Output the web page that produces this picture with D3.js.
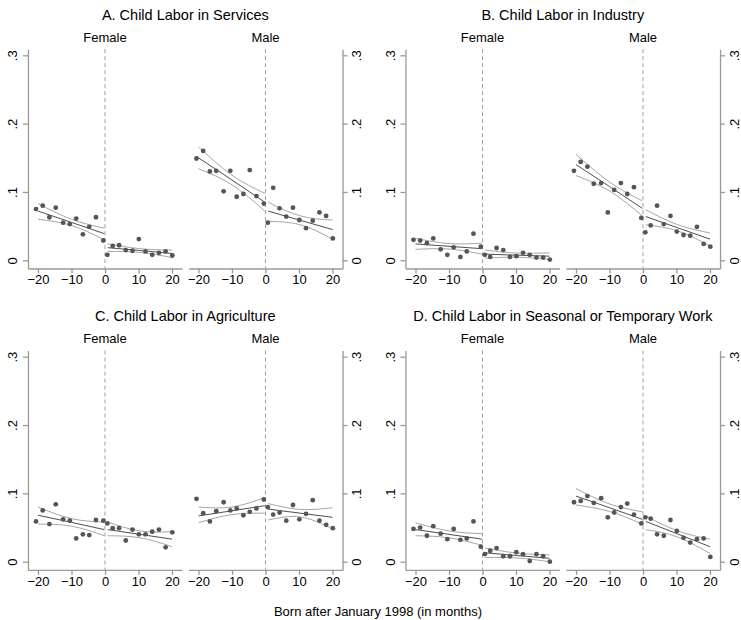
<!DOCTYPE html>
<html>
<head>
<meta charset="utf-8">
<script src="https://cdn.jsdelivr.net/npm/d3@7"></script>
<style>
  body { margin: 0; background: #fff; }
  svg { font-family: 'Liberation Sans', Arial, sans-serif; }
</style>
</head>
<body>
<svg id="chart"></svg>
<script>
// month bins (before / after January 1998)
const monthsBefore = [-20.6, -18.6, -16.6, -14.7, -12.5, -10.5, -8.6, -6.6, -4.7, -2.7, -0.5];
const monthsAfter = [0.7, 2.3, 4.2, 6.2, 8.2, 10.1, 12.1, 14.1, 16.1, 18.1, 20.1];
// months where the fitted lines and their bands are read
const fitMonths = [-20, -10, -0.2, 0.8, 10.4, 20];

const panelTitles = [
  'A. Child Labor in Services',
  'B. Child Labor in Industry',
  'C. Child Labor in Agriculture',
  'D. Child Labor in Seasonal or Temporary Work'
];
const sexes = ['Female', 'Male'];
const xTicks = [-20, -10, 0, 10, 20];
const yTicks = [0, 0.1, 0.2, 0.3];

// binned means (11 before, 11 after)
const servicesFemale = [0.075, 0.080, 0.063, 0.077, 0.055, 0.053, 0.061, 0.038, 0.049, 0.063, 0.029,
                        0.008, 0.021, 0.022, 0.015, 0.014, 0.031, 0.013, 0.008, 0.011, 0.013, 0.007];
const servicesMale = [0.149, 0.160, 0.130, 0.131, 0.101, 0.131, 0.093, 0.097, 0.132, 0.094, 0.083,
                      0.055, 0.106, 0.076, 0.064, 0.077, 0.059, 0.047, 0.058, 0.070, 0.065, 0.032];
const industryFemale = [0.030, 0.029, 0.025, 0.032, 0.016, 0.008, 0.019, 0.005, 0.013, 0.039, 0.020,
                        0.008, 0.005, 0.018, 0.015, 0.005, 0.006, 0.011, 0.008, 0.004, 0.004, 0.001];
const industryMale = [0.131, 0.144, 0.137, 0.112, 0.113, 0.070, 0.103, 0.113, 0.097, 0.107, 0.062,
                      0.041, 0.051, 0.080, 0.053, 0.065, 0.042, 0.037, 0.036, 0.049, 0.024, 0.020];
const agricultureFemale = [0.059, 0.075, 0.055, 0.084, 0.062, 0.060, 0.034, 0.040, 0.039, 0.061, 0.060,
                           0.056, 0.049, 0.049, 0.031, 0.047, 0.040, 0.040, 0.044, 0.047, 0.021, 0.043];
const agricultureMale = [0.092, 0.071, 0.059, 0.074, 0.087, 0.075, 0.078, 0.068, 0.073, 0.078, 0.091,
                         0.080, 0.069, 0.072, 0.060, 0.083, 0.062, 0.070, 0.090, 0.060, 0.054, 0.049];
const seasonalFemale = [0.048, 0.050, 0.038, 0.052, 0.041, 0.033, 0.048, 0.032, 0.034, 0.059, 0.022,
                        0.011, 0.016, 0.020, 0.008, 0.008, 0.014, 0.011, 0.001, 0.011, 0.008, 0.000];
const seasonalMale = [0.087, 0.089, 0.096, 0.086, 0.093, 0.065, 0.072, 0.080, 0.085, 0.069, 0.056,
                      0.065, 0.063, 0.040, 0.038, 0.061, 0.045, 0.035, 0.028, 0.033, 0.034, 0.007];

// linear fits and 95% bands at fitMonths
const servicesFemaleFit = [0.072, 0.0555, 0.039, 0.0185, 0.0143, 0.010];
const servicesFemaleHi = [0.083, 0.060, 0.047, 0.024, 0.017, 0.015];
const servicesFemaleLo = [0.060, 0.051, 0.030, 0.013, 0.0115, 0.004];
const servicesMaleFit = [0.150, 0.1175, 0.085, 0.072, 0.0585, 0.045];
const servicesMaleHi = [0.166, 0.1245, 0.098, 0.085, 0.065, 0.059];
const servicesMaleLo = [0.134, 0.1105, 0.072, 0.057, 0.052, 0.031];
const industryFemaleFit = [0.024, 0.0205, 0.017, 0.009, 0.0075, 0.006];
const industryFemaleHi = [0.032, 0.0245, 0.025, 0.015, 0.0105, 0.011];
const industryFemaleLo = [0.016, 0.0165, 0.009, 0.003, 0.0045, 0.001];
const industryMaleFit = [0.140, 0.108, 0.076, 0.064, 0.0475, 0.031];
const industryMaleHi = [0.155, 0.1145, 0.087, 0.074, 0.052, 0.040];
const industryMaleLo = [0.124, 0.1015, 0.065, 0.052, 0.043, 0.021];
const agricultureFemaleFit = [0.068, 0.0575, 0.047, 0.047, 0.040, 0.033];
const agricultureFemaleHi = [0.080, 0.063, 0.058, 0.058, 0.045, 0.044];
const agricultureFemaleLo = [0.055, 0.052, 0.038, 0.038, 0.035, 0.022];
const agricultureMaleFit = [0.067, 0.0745, 0.082, 0.077, 0.071, 0.065];
const agricultureMaleHi = [0.080, 0.080, 0.094, 0.085, 0.0765, 0.079];
const agricultureMaleLo = [0.057, 0.069, 0.071, 0.061, 0.0655, 0.048];
const seasonalFemaleFit = [0.047, 0.040, 0.033, 0.013, 0.009, 0.005];
const seasonalFemaleHi = [0.057, 0.045, 0.041, 0.020, 0.0125, 0.010];
const seasonalFemaleLo = [0.038, 0.035, 0.024, 0.006, 0.0055, 0.000];
const seasonalMaleFit = [0.096, 0.079, 0.062, 0.059, 0.0405, 0.022];
const seasonalMaleHi = [0.107, 0.0845, 0.073, 0.067, 0.045, 0.033];
const seasonalMaleLo = [0.083, 0.0735, 0.055, 0.047, 0.036, 0.012];

const panels = [
  [[servicesFemale, servicesFemaleFit, servicesFemaleHi, servicesFemaleLo],
   [servicesMale, servicesMaleFit, servicesMaleHi, servicesMaleLo]],
  [[industryFemale, industryFemaleFit, industryFemaleHi, industryFemaleLo],
   [industryMale, industryMaleFit, industryMaleHi, industryMaleLo]],
  [[agricultureFemale, agricultureFemaleFit, agricultureFemaleHi, agricultureFemaleLo],
   [agricultureMale, agricultureMaleFit, agricultureMaleHi, agricultureMaleLo]],
  [[seasonalFemale, seasonalFemaleFit, seasonalFemaleHi, seasonalFemaleLo],
   [seasonalMale, seasonalMaleFit, seasonalMaleHi, seasonalMaleLo]]
];

let w = 741;
let h = 620;
let svg = d3.select('#chart').attr('width', w).attr('height', h);

let months = monthsBefore.concat(monthsAfter);
let colX = [0, 377.5];
let rowY = [0, 301.4];
let subCenters = [105, 265.5];
let axisColor = '#9a9a9a';

let yScale = d3.scaleLinear()
  .domain([-0.012, 0.309])
  .range([268.5, 49.15]);

let yFormat = (d) => d === 0 ? '0' : d3.format('.1f')(d).replace(/^0/, '');

function styleAxis(g) {
  g.attr('font-size', null).attr('font-family', null);
  g.select('.domain').attr('stroke', axisColor).attr('stroke-width', 1.3);
  g.selectAll('.tick line').attr('stroke', axisColor).attr('stroke-width', 1.3);
  g.selectAll('.tick text').attr('fill', '#000').style('font-size', '13px');
}

panels.forEach((panel, i) => {
  let col = i % 2;
  let row = Math.floor(i / 2);
  let g = svg.append('g')
    .attr('transform', `translate(${colX[col]},${rowY[row]})`);

  panel.forEach((sub, s) => {
    let [vals, fit, hi, lo] = sub;
    let c = subCenters[s];
    let xScale = d3.scaleLinear()
      .domain([-23, 23])
      .range([c - 77.05, c + 77.05]);

    // x axis
    let xa = g.append('g')
      .attr('transform', `translate(0,${yScale.range()[0]})`)
      .call(d3.axisBottom(xScale).tickValues(xTicks).tickSize(5).tickSizeOuter(0));
    styleAxis(xa);
    xa.selectAll('.tick text').attr('y', 6.5);

    // y axis: left on female, right on male
    let ya;
    if (s === 0) {
      ya = g.append('g')
        .attr('transform', `translate(${xScale(-23)},0)`)
        .call(d3.axisLeft(yScale).tickValues(yTicks).tickSize(5).tickSizeOuter(0).tickFormat(yFormat));
      styleAxis(ya);
      ya.selectAll('.tick text')
        .attr('transform', 'rotate(-90)')
        .attr('text-anchor', 'middle')
        .attr('x', 0).attr('y', -10.5).attr('dy', 0);
    } else {
      ya = g.append('g')
        .attr('transform', `translate(${xScale(23)},0)`)
        .call(d3.axisRight(yScale).tickValues(yTicks).tickSize(5).tickSizeOuter(0).tickFormat(yFormat));
      styleAxis(ya);
      ya.selectAll('.tick text')
        .attr('transform', 'rotate(-90)')
        .attr('text-anchor', 'middle')
        .attr('x', 0).attr('y', 18.5).attr('dy', 0);
    }

    // cutoff
    g.append('line')
      .attr('x1', xScale(0)).attr('x2', xScale(0))
      .attr('y1', yScale(0.309)).attr('y2', yScale(-0.012))
      .attr('stroke', '#a0a0a0')
      .attr('stroke-width', 1)
      .attr('stroke-dasharray', '4,3');

    // sex label
    g.append('text')
      .attr('x', xScale(0))
      .attr('y', 41.5)
      .attr('text-anchor', 'middle')
      .style('font-size', '13px')
      .text(sexes[s]);

    // bands and fits, one segment each side
    [0, 3].forEach((k) => {
      let seg = (arr) => fitMonths.slice(k, k + 3).map((m, j) => [m, arr[k + j]]);
      let band = d3.line()
        .x((d) => xScale(d[0]))
        .y((d) => yScale(d[1]))
        .curve(d3.curveNatural);
      let straight = d3.line()
        .x((d) => xScale(d[0]))
        .y((d) => yScale(d[1]));

      [hi, lo].forEach((arr) => {
        g.append('path')
          .attr('d', band(seg(arr)))
          .attr('fill', 'none')
          .attr('stroke', '#9c9c9c')
          .attr('stroke-width', 0.9);
      });
      g.append('path')
        .attr('d', straight(seg(fit)))
        .attr('fill', 'none')
        .attr('stroke', '#3a3a3a')
        .attr('stroke-width', 0.9);
    });

    // binned means
    g.selectAll(null)
      .data(vals)
      .enter()
      .append('circle')
      .attr('cx', (d, j) => xScale(months[j]))
      .attr('cy', (d) => yScale(d))
      .attr('r', 2.4)
      .attr('fill', '#555');
  });

  // panel title
  g.append('text')
    .attr('x', 185.3)
    .attr('y', 20)
    .attr('text-anchor', 'middle')
    .style('font-size', '14.5px')
    .text(panelTitles[i]);
});

svg.append('text')
  .attr('x', 378)
  .attr('y', 616)
  .attr('text-anchor', 'middle')
  .style('font-size', '13px')
  .text('Born after January 1998 (in months)');
</script>
</body>
</html>
